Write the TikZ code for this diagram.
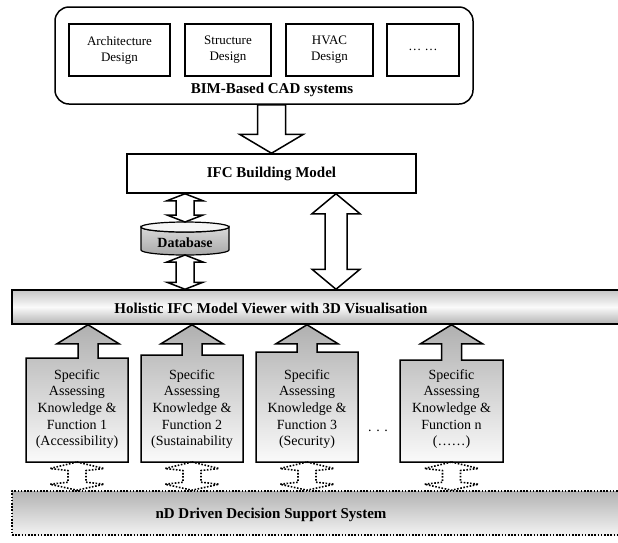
\documentclass[tikz,border=0pt]{standalone}
\usepackage{fontspec}
\setmainfont{Liberation Serif}
\usetikzlibrary{calc}

\tikzset{
  heavy/.style={draw=black, line width=1.5pt},
  cadbox/.style={draw=black, line width=1.2pt, inner sep=0pt, align=center,
    font=\fontsize{13}{16}\selectfont},
  boldtext/.style={inner sep=0pt, font=\fontsize{15}{18}\selectfont\bfseries},
  blockarrow/.style={draw=black, line width=1.5pt, fill=white, line join=miter},
  fnshape/.style={draw=black, line width=1.5pt, top color=gray!62, bottom color=gray!4},
  fntext/.style={inner sep=0pt, align=center, font=\fontsize{14}{16.7}\selectfont},
  holder/.style={inner sep=0pt, outer sep=0pt},
  linkarrow/.style={draw=black, line width=1.6pt, dash pattern=on 1.6pt off 1.6pt, line join=round},
}

% two-headed block arrow between two tips: #2 top tip, #3 bottom tip,
% #4 head length, #5 head half-width, #6 shaft half-width
\newcommand\twowayarrow[6][blockarrow]{%
  \draw[#1] (#2) -- ($(#2)+(#5,#4)$) -- ($(#2)+(#6,#4)$) -- ($(#3)+(#6,-#4)$)
    -- ($(#3)+(#5,-#4)$) -- (#3) -- ($(#3)+(-#5,-#4)$) -- ($(#3)+(-#6,-#4)$)
    -- ($(#2)+(-#6,#4)$) -- ($(#2)+(-#5,#4)$) -- cycle;}

% assessing module: box with an upward arrow into the viewer bar
% #1 body node, #2 arrow offset from the body centre
\newcommand\assessshape[2]{%
  \coordinate (#1-tip) at ($(#1.north)+(#2,0)$);
  \coordinate (#1-tip) at (#1-tip |- viewer.south);
  \coordinate (#1-sl) at ($(#1-tip)+(-10,19)$);
  \coordinate (#1-sr) at ($(#1-tip)+(10,19)$);
  \path[fnshape] (#1.south west) -- (#1.north west) -- (#1-sl |- #1.north) -- (#1-sl)
    -- ($(#1-tip)+(-31,19)$) -- (#1-tip) -- ($(#1-tip)+(31,19)$) -- (#1-sr)
    -- (#1-sr |- #1.north) -- (#1.north east) -- (#1.south east) -- cycle;}

% dotted two-way link between a module and the decision support bar
\newcommand\dottedlink[2]{%
  \draw[linkarrow] (#1) -- ($(#1)+(27,6.5)$) -- ($(#1)+(9,8.5)$) -- ($(#2)+(9,-8)$)
    -- ($(#2)+(27,-6)$) -- (#2) -- ($(#2)+(-27,-6)$) -- ($(#2)+(-9,-8)$)
    -- ($(#1)+(-9,8.5)$) -- ($(#1)+(-27,6.5)$) -- cycle;}

\begin{document}
\begin{tikzpicture}[x=1pt,y=-1pt]
\useasboundingbox (0,0) rectangle (618,542);
\clip (0,0) rectangle (618,542);

% ---- BIM-based CAD systems ----
\node[heavy, rounded corners=14pt, minimum width=418pt, minimum height=97pt, inner sep=0pt]
  (bim) at (264,55.5) {};
\node[cadbox, minimum width=101pt, minimum height=52pt] (arch) at (119.5,50) {Architecture\\Design};
\node[cadbox, minimum width=86pt, minimum height=52pt] (struct) at (228,50) {Structure\\Design};
\node[cadbox, minimum width=87pt, minimum height=52pt] (hvac) at (329.5,50) {HVAC\\Design};
\node[cadbox, minimum width=72pt, minimum height=52pt] (more) at (423,50) {… …};
\node[boldtext] (bimlabel) at (272,90) {BIM-Based CAD systems};

% ---- IFC building model ----
\node[heavy, minimum width=289pt, minimum height=39pt, boldtext, inner sep=0pt]
  (ifc) at (271.5,173.5) {IFC Building Model};

\draw[blockarrow] (ifc.north) -- ++(32,-19) -- ++(-18,0)
  -- ($(ifc.north |- bim.south)+(14,0)$) -- ++(-28,0)
  -- ($(ifc.north)+(-14,-19)$) -- ++(-18,0) -- cycle;

% ---- viewer bar ----
\node[heavy, minimum width=628pt, minimum height=34pt, inner sep=0pt,
  top color=gray!45, bottom color=gray!60, middle color=gray!4] (viewer) at (326,307) {};
\node[boldtext] (viewerlabel) at (271,308) {Holistic IFC Model Viewer with 3D Visualisation};

% ---- database ----
\node[holder, minimum width=88pt, minimum height=33pt] (db) at (185,238.5) {};
\path[draw=black, line width=1.2pt, top color=gray!30, bottom color=gray!68]
  ($(db.north west)+(0,5)$) -- ($(db.south west)+(0,-5)$)
  arc[start angle=180, end angle=0, x radius=44, y radius=5]
  -- ($(db.north east)+(0,5)$)
  arc[start angle=0, end angle=180, x radius=44, y radius=5] -- cycle;
\draw[line width=1.2pt, fill=gray!8] ($(db.north)+(0,5)$) ellipse[x radius=44, y radius=5];
\node[inner sep=0pt, font=\fontsize{14}{16}\selectfont\bfseries] (dblabel) at (185,243) {Database};

\coordinate (dbA) at (db.north |- ifc.south);
\coordinate (dbB) at (db.south |- viewer.north);
\twowayarrow{dbA}{db.north}{7}{18}{9}
\twowayarrow{db.south}{dbB}{7}{18}{9}

\coordinate (bigA) at ($(ifc.south)+(64.5,0)$);
\coordinate (bigB) at (bigA |- viewer.north);
\twowayarrow{bigA}{bigB}{20}{24}{11}

% ---- assessing modules ----
\node[holder, minimum width=102pt, minimum height=104pt] (fb1) at (77,410) {};
\node[holder, minimum width=102pt, minimum height=107pt] (fb2) at (192,408.5) {};
\node[holder, minimum width=102pt, minimum height=110pt] (fb3) at (307,407) {};
\node[holder, minimum width=103pt, minimum height=102pt] (fb4) at (451.5,411) {};

\assessshape{fb1}{11}
\assessshape{fb2}{0}
\assessshape{fb3}{0}
\assessshape{fb4}{0}

\node[fntext] (f1) at ($(fb1.south)+(0,-53)$) {Specific\\Assessing\\Knowledge \&\\Function 1\\(Accessibility)};
\node[fntext] (f2) at ($(fb2.south)+(0,-53)$) {Specific\\Assessing\\Knowledge \&\\Function 2\\(Sustainability};
\node[fntext] (f3) at ($(fb3.south)+(0,-53)$) {Specific\\Assessing\\Knowledge \&\\Function 3\\(Security)};
\node[fntext] (f4) at ($(fb4.south)+(0,-53)$) {Specific\\Assessing\\Knowledge \&\\Function n\\(……)};
\node[fntext] (gap) at (378,431) {. . .};

% ---- decision support system ----
\node[linkarrow, minimum width=628pt, minimum height=44pt, inner sep=0pt,
  top color=gray!60, bottom color=gray!10] (nd) at (326,513) {};
\node[boldtext] (ndlabel) at (271,515) {nD Driven Decision Support System};

\foreach \k in {1,2,3,4} {
  \coordinate (lk\k) at (fb\k.south |- nd.north);
  \dottedlink{fb\k.south}{lk\k}
}
\end{tikzpicture}
\end{document}
